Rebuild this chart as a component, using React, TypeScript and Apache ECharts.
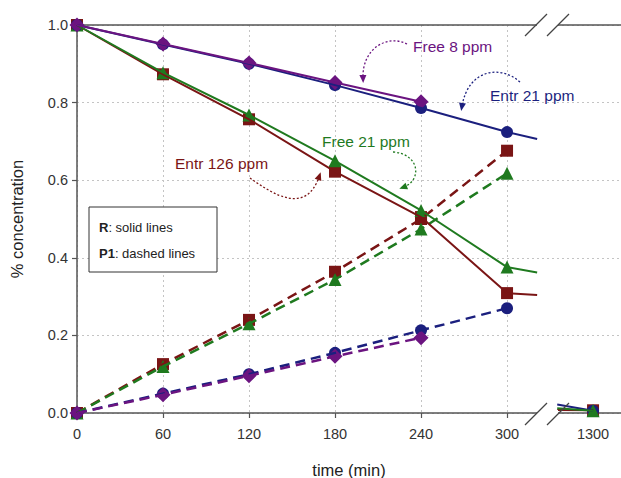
import React, { useEffect, useRef } from "react";
import * as echarts from "echarts";

// ---- data ----
const times = [0, 60, 120, 180, 240, 300];
const xTickValues = [0, 60, 120, 180, 240, 300];
const xLabelValues = [0, 60, 120, 180, 240, 300, 360];
const pos1300 = 360; // axis position standing for t = 1300 min (after the break)
const breakStart = 321; // where lines are cut before the axis break
const breakEnd = 335; // where lines resume after the axis break

const free8R = [1.0, 0.951, 0.902, 0.852, 0.802];
const free8P1 = [0, 0.047, 0.096, 0.146, 0.194];
const entr21R = [1.0, 0.95, 0.9, 0.845, 0.786, 0.724];
const entr21P1 = [0, 0.05, 0.1, 0.155, 0.213, 0.27];
const entr126R = [1.0, 0.873, 0.757, 0.622, 0.505, 0.309];
const entr126P1 = [0, 0.126, 0.24, 0.364, 0.5, 0.676];
const free21R = [1.0, 0.877, 0.768, 0.65, 0.522, 0.376];
const free21P1 = [0, 0.12, 0.23, 0.344, 0.474, 0.618];

// values where the solid lines are cut before the break, resume after it, and at 1300 min
const entr21Break = [0.706, 0.022, 0.006];
const free21Break = [0.362, 0.012, 0.006];
const entr126Break = [0.304, 0.008, 0.007];

const C_PURPLE = "#6b1480";
const C_NAVY = "#1b1f7e";
const C_RED = "#7a1515";
const C_GREEN = "#1f7a1f";
const C_GRID = "#c4c4c4";
const FONT = "Liberation Sans, Arial, sans-serif";

function pairs(xs: number[], ys: number[]) {
  return ys.map((y, i) => [xs[i], y]);
}

function lineSeries(name: string, data: any[], color: string, dashed: boolean) {
  return {
    name,
    type: "line",
    data,
    symbol: "none",
    lineStyle: dashed ? { color, width: 2.5, type: [10, 6] } : { color, width: 2 },
    itemStyle: { color },
    silent: true,
  };
}

function markers(name: string, data: any[], color: string, symbol: string, size: number) {
  return {
    name: name + " markers",
    type: "scatter",
    data,
    symbol,
    symbolSize: size,
    itemStyle: { color, opacity: 1 },
    silent: true,
  };
}

function group(name: string, ys: number[], brk: number[] | null, color: string, symbol: string, size: number, dashed: boolean) {
  const pts = pairs(times, ys);
  const lineData: any[] = brk ? [...pts, [breakStart, brk[0]]] : pts;
  return [lineSeries(name, lineData, color, dashed), markers(name, pts, color, symbol, size)];
}

function afterBreak(name: string, brk: number[], color: string, symbol: string, size: number) {
  return [
    lineSeries(name + " (1300)", [[breakEnd, brk[1]], [pos1300, brk[2]]], color, false),
    markers(name + " (1300)", [[pos1300, brk[2]]], color, symbol, size),
  ];
}

function arrow(x1: number, y1: number, cx1: number, cy1: number, cx2: number, cy2: number, x2: number, y2: number, color: string) {
  const ang = Math.atan2(y2 - cy2, x2 - cx2);
  const L = 8;
  const W = 3.5;
  const dx = Math.cos(ang);
  const dy = Math.sin(ang);
  const tipX = x2 + dx * 5;
  const tipY = y2 + dy * 5;
  const bx = tipX - dx * L;
  const by = tipY - dy * L;
  return [
    {
      type: "bezierCurve",
      shape: { x1, y1, cpx1: cx1, cpy1: cy1, cpx2: cx2, cpy2: cy2, x2, y2 },
      style: { stroke: color, lineWidth: 1.3, lineDash: [2, 2], fill: null },
      z: 20,
      silent: true,
    },
    {
      type: "polygon",
      shape: {
        points: [
          [tipX, tipY],
          [bx - dy * W, by + dx * W],
          [bx + dy * W, by - dx * W],
        ],
      },
      style: { fill: color },
      z: 20,
      silent: true,
    },
  ];
}

function label(text: string, x: number, y: number, color: string) {
  return {
    type: "text",
    x,
    y,
    z: 20,
    silent: true,
    style: { text, fill: color, fontSize: 15.5, fontFamily: FONT, align: "left", verticalAlign: "middle" },
  };
}

function slash(x: number, y: number) {
  return {
    type: "line",
    shape: { x1: x - 11, y1: y + 11, x2: x + 11, y2: y - 11 },
    style: { stroke: "#444", lineWidth: 1.2 },
    z: 30,
    silent: true,
  };
}

export default function App() {
  const ref = useRef<HTMLDivElement>(null);
  const overlayRef = useRef<HTMLDivElement>(null);

  useEffect(() => {
    if (!ref.current || !overlayRef.current) return;
    const chart = echarts.init(ref.current, undefined, { renderer: "svg" });
    const overlay = echarts.init(overlayRef.current, undefined, { renderer: "svg" });

    const option: any = {
      animation: false,
      backgroundColor: "#ffffff",
      textStyle: { fontFamily: FONT },
      grid: { left: 77, top: 25, width: 544, height: 388, containLabel: false, outerBoundsMode: "none" },
      xAxis: [
        {
          type: "value",
          min: 0,
          max: 379.5,
          name: "time (min)",
          nameLocation: "middle",
          nameGap: 48,
          nameTextStyle: { fontSize: 16.5, color: "#222", fontFamily: FONT },
          axisLine: { show: true, lineStyle: { color: "#555", width: 1.5 } },
          axisTick: { show: true, length: 5, inside: false, customValues: xTickValues, lineStyle: { color: "#555", width: 1.2 } },
          axisLabel: {
            show: true,
            customValues: xLabelValues,
            margin: 13,
            fontSize: 14.5,
            color: "#333",
            fontFamily: FONT,
            formatter: (v: number) => (v === pos1300 ? "1300" : String(v)),
          },
          splitLine: { show: false },
        },
        {
          type: "value",
          min: 0,
          max: 379.5,
          interval: 60,
          position: "top",
          axisLine: { show: true, lineStyle: { color: "#555", width: 1.5 } },
          axisTick: { show: false },
          axisLabel: { show: false },
          splitLine: {
            show: true,
            lineStyle: {
              color: [C_GRID, C_GRID, C_GRID, C_GRID, C_GRID, C_GRID, "rgba(0,0,0,0)", "rgba(0,0,0,0)"],
              width: 1,
              type: [2, 3],
            },
          },
        },
      ],
      yAxis: {
        type: "value",
        min: 0,
        max: 1,
        interval: 0.2,
        name: "% concentration",
        nameLocation: "middle",
        nameGap: 52,
        nameTextStyle: { fontSize: 16.5, color: "#222", fontFamily: FONT },
        axisLine: { show: true, lineStyle: { color: "#555", width: 1.5 } },
        axisTick: { show: true, length: 5, inside: false, lineStyle: { color: "#555", width: 1.2 } },
        axisLabel: {
          fontSize: 14.5,
          color: "#333",
          margin: 9,
          fontFamily: FONT,
          formatter: (v: number) => v.toFixed(1),
        },
        splitLine: { show: true, lineStyle: { color: C_GRID, width: 1, type: [2, 3] } },
      },
      series: [
        ...group("Entr 126 ppm P1", entr126P1, null, C_RED, "rect", 12, true),
        ...group("Free 21 ppm P1", free21P1, null, C_GREEN, "triangle", 13, true),
        ...group("Entr 126 ppm R", entr126R, entr126Break, C_RED, "rect", 12, false),
        ...group("Free 21 ppm R", free21R, free21Break, C_GREEN, "triangle", 13, false),
        ...group("Entr 21 ppm P1", entr21P1, null, C_NAVY, "circle", 12, true),
        ...group("Free 8 ppm P1", free8P1, null, C_PURPLE, "diamond", 15, true),
        ...group("Entr 21 ppm R", entr21R, entr21Break, C_NAVY, "circle", 12, false),
        ...group("Free 8 ppm R", free8R, null, C_PURPLE, "diamond", 15, false),
        ...afterBreak("Entr 126 ppm R", entr126Break, C_RED, "rect", 12),
        ...afterBreak("Entr 21 ppm R", entr21Break, C_NAVY, "circle", 12),
        ...afterBreak("Free 21 ppm R", free21Break, C_GREEN, "triangle", 13),
      ],
    };

    const overlayOption: any = {
      animation: false,
      graphic: [
        // break gaps in the axis lines
        { type: "rect", shape: { x: 537, y: 22, width: 21, height: 6 }, style: { fill: "#fff" }, z: 25, silent: true },
        { type: "rect", shape: { x: 537, y: 410, width: 21, height: 6 }, style: { fill: "#fff" }, z: 25, silent: true },
        slash(536, 25),
        slash(558, 25),
        slash(536, 414),
        slash(558, 414),
        // legend box
        { type: "rect", shape: { x: 89, y: 207, width: 128, height: 65 }, style: { fill: "#fff" }, z: 15, silent: true },
        {
          type: "polyline",
          shape: { points: [[89, 207], [217, 207], [217, 272], [89, 272], [89, 207]] },
          style: { stroke: "#333", lineWidth: 1, fill: null },
          z: 16,
          silent: true,
        },
        {
          type: "text",
          x: 99,
          y: 227,
          z: 16,
          silent: true,
          style: {
            text: "{b|R}: solid lines",
            fill: "#222",
            fontSize: 13,
            fontFamily: FONT,
            verticalAlign: "middle",
            rich: { b: { fontWeight: "bold", fontSize: 13, fontFamily: FONT, fill: "#222" } },
          },
        },
        {
          type: "text",
          x: 99,
          y: 253,
          z: 16,
          silent: true,
          style: {
            text: "{b|P1}: dashed lines",
            fill: "#222",
            fontSize: 13,
            fontFamily: FONT,
            verticalAlign: "middle",
            rich: { b: { fontWeight: "bold", fontSize: 13, fontFamily: FONT, fill: "#222" } },
          },
        },
        // annotations
        label("Free 8 ppm", 413, 46, C_PURPLE),
        ...arrow(407, 44, 388, 34, 362, 48, 363, 78, C_PURPLE),
        label("Entr 21 ppm", 490, 95, C_NAVY),
        ...arrow(520, 82, 500, 64, 468, 70, 462, 106, C_NAVY),
        label("Free 21 ppm", 322, 141, C_GREEN),
        ...arrow(393, 152, 420, 154, 422, 180, 404, 187, C_GREEN),
        label("Entr 126 ppm", 175, 163, C_RED),
        ...arrow(250, 178, 275, 196, 306, 214, 319, 177, C_RED),
      ],
    };

    chart.setOption(option);
    overlay.setOption(overlayOption);
    return () => {
      overlay.dispose();
      chart.dispose();
    };
  }, []);

  return (
    <div style={{ position: "fixed", left: 0, top: 0, width: 621, height: 478, background: "#fff" }}>
      <div ref={ref} style={{ position: "absolute", left: 0, top: 0, width: 621, height: 478 }} />
      <div
        ref={overlayRef}
        style={{ position: "absolute", left: 0, top: 0, width: 621, height: 478, pointerEvents: "none" }}
      />
    </div>
  );
}
